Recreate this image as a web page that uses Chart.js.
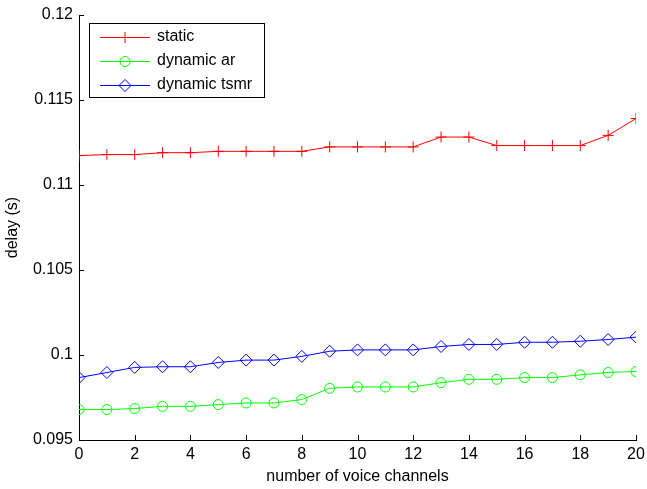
<!DOCTYPE html>
<html>
<head>
<meta charset="utf-8">
<script src="https://cdn.jsdelivr.net/npm/chart.js@4.4.1/dist/chart.umd.min.js"></script>
<style>
    html, body { margin: 0; padding: 0; background: #fff; }
    #wrap { width: 647px; height: 489px; }
</style>
</head>
<body>
<div id="wrap"><canvas id="delayChart" width="647" height="489"></canvas></div>
<script>
const channels = [0, 1, 2, 3, 4, 5, 6, 7, 8, 9, 10, 11, 12, 13, 14, 15, 16, 17, 18, 19, 20];

const staticDelay = [0.11173, 0.11179, 0.11179, 0.11190, 0.11190, 0.11198, 0.11198, 0.11198, 0.11198, 0.11224, 0.11224,
    0.11224, 0.11224, 0.11282, 0.11282, 0.11232, 0.11232, 0.11232, 0.11232, 0.11292, 0.11391];
const dynamicAr = [0.09679, 0.09679, 0.09685, 0.09698, 0.09698, 0.09708, 0.09718, 0.09718, 0.09738, 0.09804, 0.09812,
    0.09812, 0.09812, 0.09837, 0.09857, 0.09857, 0.09867, 0.09867, 0.09883, 0.09897, 0.09903];
const dynamicTsmr = [0.09867, 0.09897, 0.09927, 0.09931, 0.09931, 0.09956, 0.09970, 0.09970, 0.09992, 0.10022, 0.10030,
    0.10030, 0.10030, 0.10050, 0.10062, 0.10062, 0.10075, 0.10075, 0.10081, 0.10091, 0.10105];

const seriesNames = ['static', 'dynamic ar', 'dynamic tsmr'];
const xTicks = [0, 2, 4, 6, 8, 10, 12, 14, 16, 18, 20];
const yTicks = [0.095, 0.1, 0.105, 0.11, 0.115, 0.12];

const FONT = '"Liberation Sans", Arial, Helvetica, sans-serif';

function toPoints(values) {
    return values.map((v, i) => ({ x: channels[i], y: v }));
}

function makeDataset(label, values, color, style, radius) {
    return {
        label: label,
        data: toPoints(values),
        borderColor: color,
        backgroundColor: 'rgba(0,0,0,0)',
        borderWidth: 1,
        pointStyle: style,
        pointRadius: radius,
        pointBorderColor: color,
        pointBackgroundColor: 'rgba(0,0,0,0)',
        pointBorderWidth: 1,
        tension: 0
    };
}

// matlab style ticks pointing into the axes
const innerTicks = {
    id: 'innerTicks',
    afterDraw(chart) {
        const ctx = chart.ctx;
        const xs = chart.scales.x;
        const ys = chart.scales.y;
        const area = chart.chartArea;
        ctx.save();
        ctx.strokeStyle = '#000';
        ctx.lineWidth = 1;
        ctx.beginPath();
        xs.ticks.forEach(t => {
            const px = Math.round(xs.getPixelForValue(t.value)) + 0.5;
            ctx.moveTo(px, area.bottom);
            ctx.lineTo(px, area.bottom - 5);
        });
        ys.ticks.forEach(t => {
            const py = Math.round(ys.getPixelForValue(t.value)) + 0.5;
            ctx.moveTo(area.left, py);
            ctx.lineTo(area.left + 5, py);
        });
        ctx.stroke();
        ctx.restore();
    }
};

const boxLegend = {
    id: 'boxLegend',
    afterDraw(chart) {
        const ctx = chart.ctx;
        const left = 89.5, top = 23.5, right = 264.5, bottom = 97.5;
        ctx.save();
        ctx.fillStyle = '#fff';
        ctx.fillRect(left, top, right - left, bottom - top);
        ctx.strokeStyle = '#000';
        ctx.lineWidth = 1;
        ctx.strokeRect(left, top, right - left, bottom - top);
        chart.data.datasets.forEach((ds, i) => {
            const y = 37 + i * 24;
            ctx.strokeStyle = ds.borderColor;
            ctx.lineWidth = 1;
            ctx.beginPath();
            ctx.moveTo(100, y + 0.5);
            ctx.lineTo(150, y + 0.5);
            ctx.stroke();
            ctx.fillStyle = 'rgba(0,0,0,0)';
            Chart.helpers.drawPoint(ctx, {
                pointStyle: ds.pointStyle,
                radius: ds.pointRadius,
                borderWidth: 1,
                rotation: 0
            }, 125, y + 0.5);
            ctx.fillStyle = '#000';
            ctx.font = '16px ' + FONT;
            ctx.textBaseline = 'middle';
            ctx.textAlign = 'left';
            ctx.fillText(ds.label, 157, y);
        });
        ctx.restore();
    }
};

new Chart(document.getElementById('delayChart').getContext('2d'), {
    type: 'line',
    data: {
        datasets: [
            makeDataset(seriesNames[0], staticDelay, '#ff0000', 'cross', 5.5),
            makeDataset(seriesNames[1], dynamicAr, '#00ff00', 'circle', 5),
            makeDataset(seriesNames[2], dynamicTsmr, '#0000ff', 'rectRot', 6)
        ]
    },
    options: {
        responsive: false,
        animation: false,
        layout: { padding: { left: 3, top: 15, right: 11, bottom: 3 } },
        plugins: {
            legend: { display: false },
            tooltip: { enabled: false }
        },
        scales: {
            x: {
                type: 'linear',
                min: 0,
                max: 20,
                afterBuildTicks: s => { s.ticks = xTicks.map(v => ({ value: v })); },
                afterFit: s => { s.height = 46; s.paddingLeft = 0; s.paddingRight = 0; },
                grid: { drawOnChartArea: false, drawTicks: false },
                border: { color: '#000', width: 1 },
                ticks: {
                    color: '#000',
                    padding: 5,
                    font: { family: FONT, size: 16 },
                    maxRotation: 0,
                    autoSkip: false
                },
                title: {
                    display: true,
                    text: 'number of voice channels',
                    color: '#000',
                    font: { family: FONT, size: 16 },
                    padding: { top: 0, bottom: 0 }
                }
            },
            y: {
                min: 0.095,
                max: 0.12,
                afterBuildTicks: s => { s.ticks = yTicks.map(v => ({ value: v })); },
                afterFit: s => { s.width = 76; s.paddingTop = 0; s.paddingBottom = 0; },
                grid: { drawOnChartArea: false, drawTicks: false },
                border: { color: '#000', width: 1 },
                ticks: {
                    color: '#000',
                    padding: 6,
                    font: { family: FONT, size: 16 },
                    callback: v => String(Number(v.toFixed(3)))
                },
                title: {
                    display: true,
                    text: 'delay (s)',
                    color: '#000',
                    font: { family: FONT, size: 16 },
                    padding: { top: 0, bottom: 0 }
                }
            }
        }
    },
    plugins: [innerTicks, boxLegend]
});
</script>
</body>
</html>
